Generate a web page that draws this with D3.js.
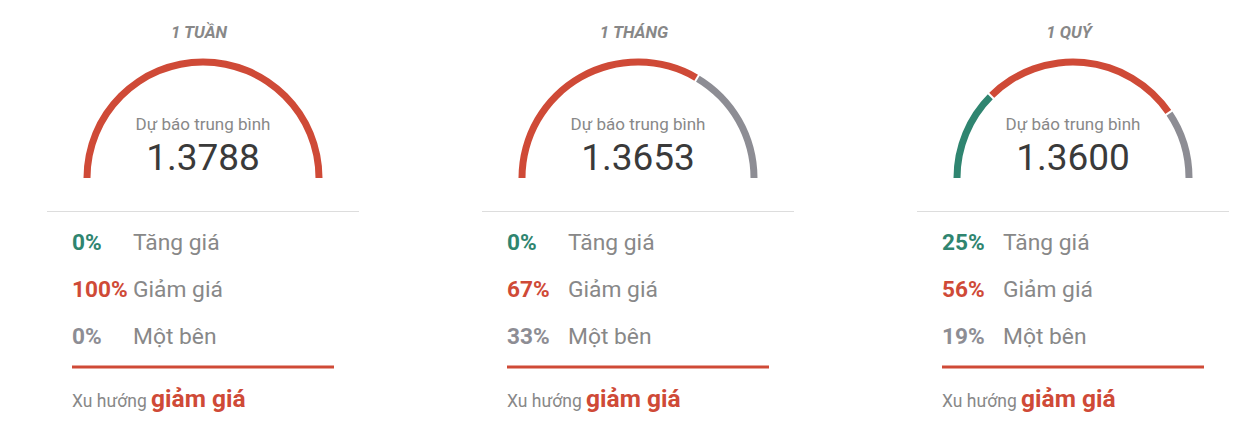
<!DOCTYPE html>
<html>
<head>
<meta charset="utf-8">
<script src="https://cdn.jsdelivr.net/npm/d3@7"></script>
<style>
  html, body { margin: 0; padding: 0; background: #fff; }
  svg { display: block; font-family: Roboto, "Noto Sans", sans-serif; }
</style>
</head>
<body>
<svg id="chart" width="1247" height="442"></svg>
<script>
const periods   = ["1 TUẦN", "1 THÁNG", "1 QUÝ"];
const averages  = ["1.3788", "1.3653", "1.3600"];
const upPct     = [0, 0, 25];
const downPct   = [100, 67, 56];
const sidePct   = [0, 33, 19];
const trends    = ["giảm giá", "giảm giá", "giảm giá"];
const rowLabels = ["Tăng giá", "Giảm giá", "Một bên"];

const colors = { up: "#2f8570", down: "#cf4a37", side: "#8d8d94", text: "#888888", dark: "#3a3a3a" };

const svg = d3.select("#chart");
const panelX = d3.scalePoint().domain(d3.range(periods.length)).range([203, 1073]);
const angle = d3.scaleLinear().domain([0, 100]).range([-Math.PI / 2, Math.PI / 2]);
const arc = d3.arc().innerRadius(112.5).outerRadius(119.5);
const cy = 178;

periods.forEach((p, i) => {
  const cx = panelX(i);
  const g = svg.append("g").attr("transform", `translate(${cx},0)`);

  g.append("text").attr("x", -4).attr("y", 37.5).attr("text-anchor", "middle")
    .attr("font-size", 16.8).attr("font-weight", "bold").attr("font-style", "italic")
    .attr("fill", colors.text).text(p);

  const segs = [
    { v: upPct[i], c: colors.up },
    { v: downPct[i], c: colors.down },
    { v: sidePct[i], c: colors.side }
  ];
  let acc = 0;
  const gauge = g.append("g").attr("transform", `translate(0,${cy})`);
  const bounds = [];
  segs.forEach(s => {
    if (s.v <= 0) return;
    gauge.append("path")
      .attr("d", arc({ startAngle: angle(acc), endAngle: angle(acc + s.v) }))
      .attr("fill", s.c);
    acc += s.v;
    if (acc < 100) bounds.push(acc);
  });
  bounds.forEach(b => {
    const a = angle(b);
    gauge.append("line")
      .attr("x1", Math.sin(a) * 110).attr("y1", -Math.cos(a) * 110)
      .attr("x2", Math.sin(a) * 122).attr("y2", -Math.cos(a) * 122)
      .attr("stroke", "#fff").attr("stroke-width", 2);
  });

  g.append("text").attr("x", 0).attr("y", 130).attr("text-anchor", "middle")
    .attr("font-size", 17).attr("fill", colors.text).text("Dự báo trung bình");
  g.append("text").attr("x", 0).attr("y", 170).attr("text-anchor", "middle")
    .attr("font-size", 37).attr("fill", colors.dark).text(averages[i]);

  g.append("line").attr("x1", -156).attr("x2", 156).attr("y1", 211.5).attr("y2", 211.5)
    .attr("stroke", "#dddddd").attr("stroke-width", 1);

  const vals = [upPct[i], downPct[i], sidePct[i]];
  const vcol = [colors.up, colors.down, colors.side];
  vals.forEach((v, k) => {
    const y = 249.5 + k * 47;
    g.append("text").attr("x", -131).attr("y", y).attr("font-size", 22.6).attr("font-weight", "bold")
      .attr("fill", vcol[k]).text(v + "%");
    g.append("text").attr("x", -70).attr("y", y).attr("font-size", 22.8)
      .attr("fill", colors.text).text(rowLabels[k]);
  });

  g.append("line").attr("x1", -131).attr("x2", 131).attr("y1", 367).attr("y2", 367)
    .attr("stroke", colors.down).attr("stroke-width", 3);

  const t = g.append("text").attr("x", -131).attr("y", 407);
  t.append("tspan").attr("font-size", 17.5).attr("fill", colors.text).text("Xu hướng ");
  t.append("tspan").attr("font-size", 24.5).attr("font-weight", "bold").attr("fill", colors.down).text(trends[i]);
});
</script>
</body>
</html>
